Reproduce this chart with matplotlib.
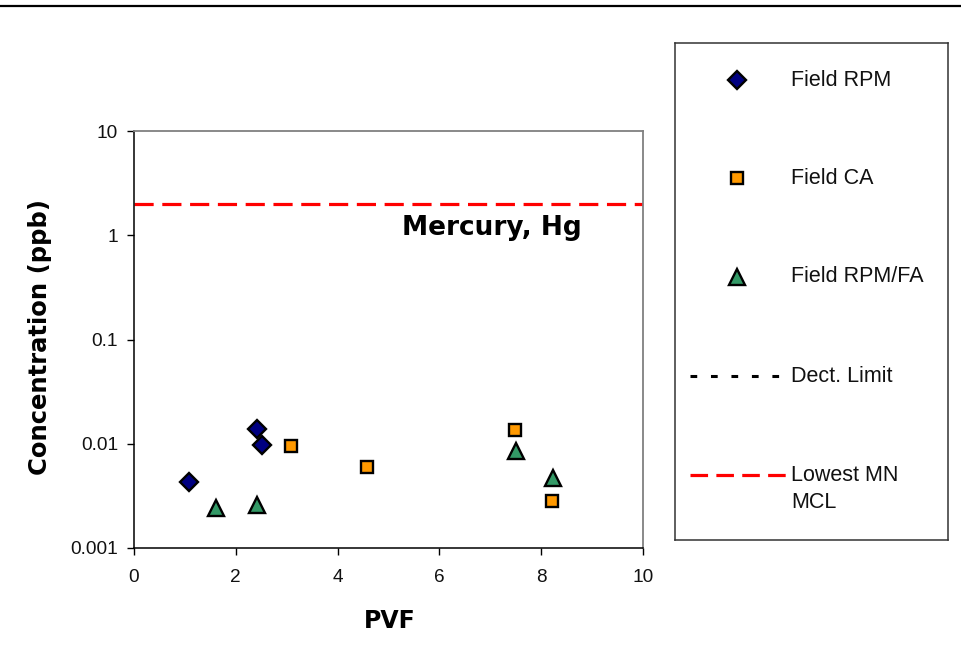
import matplotlib
matplotlib.use("Agg")
import matplotlib.pyplot as plt
from matplotlib.lines import Line2D

# ---- data ----
rpm_x = [1.08, 2.42, 2.52]
rpm_y = [0.0043, 0.014, 0.0098]
ca_x = [3.09, 4.58, 7.48, 8.21]
ca_y = [0.0095, 0.0060, 0.0137, 0.0028]
fa_x = [1.61, 2.42, 7.50, 8.23]
fa_y = [0.0024, 0.0026, 0.0085, 0.0047]
mcl_value = 2.0
x_ticks = [0, 2, 4, 6, 8, 10]
y_ticks = [0.001, 0.01, 0.1, 1, 10]
y_ticklabels = ["0.001", "0.01", "0.1", "1", "10"]
series_labels = ["Field RPM", "Field CA", "Field RPM/FA", "Dect. Limit", "Lowest MN\nMCL"]
chart_title = "Mercury, Hg"

W, H = 961, 670
fig = plt.figure(figsize=(W / 100, H / 100), dpi=100)

# top rule
fig.add_artist(Line2D([0, 1], [1 - 6 / H] * 2, transform=fig.transFigure,
                      color="black", lw=1.6))

ax = fig.add_axes([134 / W, (H - 548) / H, 509 / W, 416.7 / H])
ax.set_yscale("log")
ax.set_xlim(0, 10)
ax.set_ylim(0.001, 10)

mk = dict(linestyle="none", markeredgecolor="black", markeredgewidth=1.7, zorder=3)
ax.plot(rpm_x, rpm_y, marker="D", markersize=9, color="#000080", **mk)
ax.plot(ca_x, ca_y, marker="s", markersize=9.3, color="#FF9900", **mk)
ax.plot(fa_x, fa_y, marker="^", markersize=11.5, color="#339966", **mk)

red = ax.axhline(mcl_value, color="#FF0000", lw=2.3, zorder=2)
red.set_dashes([6, 2.7])

ax.set_xticks(x_ticks)
ax.set_xticklabels([str(t) for t in x_ticks])
ax.set_yticks(y_ticks)
ax.set_yticklabels(y_ticklabels)
ax.yaxis.set_minor_locator(matplotlib.ticker.NullLocator())
ax.tick_params(axis="both", direction="out", length=5, width=1, color="black",
               labelsize=13.7)
ax.tick_params(axis="x", pad=10)
ax.tick_params(axis="y", pad=6.5)
for lab in ax.get_xticklabels() + ax.get_yticklabels():
    lab.set_family("Liberation Sans")
    lab.set_color("#111111")

for s in ["left", "bottom"]:
    ax.spines[s].set_color("black")
    ax.spines[s].set_linewidth(1.1)
for s in ["top", "right"]:
    ax.spines[s].set_color("#808080")
    ax.spines[s].set_linewidth(1.3)

ax.text((402 - 134) / 509, (548 - 235) / 416.7, chart_title, transform=ax.transAxes,
        ha="left", va="baseline", fontsize=19, fontweight="bold",
        family="DejaVu Sans", color="black")

fig.text(390 / W, (H - 628) / H, "PVF", ha="center", va="baseline",
         fontsize=17, fontweight="bold", family="DejaVu Sans")
fig.text(40 / W, (H - 337) / H, "Concentration (ppb)", ha="center", va="center",
         rotation=90, fontsize=17.5, fontweight="bold", family="DejaVu Sans")

# ---- legend box ----
lx0, lx1, ly0, ly1 = 675, 948, 43, 540
lax = fig.add_axes([lx0 / W, (H - ly1) / H, (lx1 - lx0) / W, (ly1 - ly0) / H])
lax.set_xlim(lx0, lx1)
lax.set_ylim(ly1, ly0)
lax.set_xticks([])
lax.set_yticks([])
for s in lax.spines.values():
    s.set_color("#333333")
    s.set_linewidth(1.1)

marker_x = 737
text_x = 791
rows = [80, 178, 277, 376, 475]
lax.plot([marker_x], [rows[0]], marker="D", markersize=9, color="#000080", **mk)
lax.plot([marker_x], [rows[1]], marker="s", markersize=9.3, color="#FF9900", **mk)
lax.plot([marker_x], [rows[2]], marker="^", markersize=11.5, color="#339966", **mk)
dl, = lax.plot([690, 786], [rows[3], rows[3]], color="black", lw=2.2)
dl.set_dashes([2.2, 4.5])
ml, = lax.plot([690, 786], [rows[4], rows[4]], color="#FF0000", lw=2.3)
ml.set_dashes([5.5, 2.6])

for i, lab in enumerate(series_labels):
    if "\n" in lab:
        lax.text(text_x, rows[i] - 10, lab, ha="left", va="top", fontsize=15.5,
                 family="Liberation Sans", linespacing=1.35, color="#111111")
    else:
        lax.text(text_x, rows[i], lab, ha="left", va="center", fontsize=15.5,
                 family="Liberation Sans", color="#111111")

fig.savefig("out.png", dpi=100)
